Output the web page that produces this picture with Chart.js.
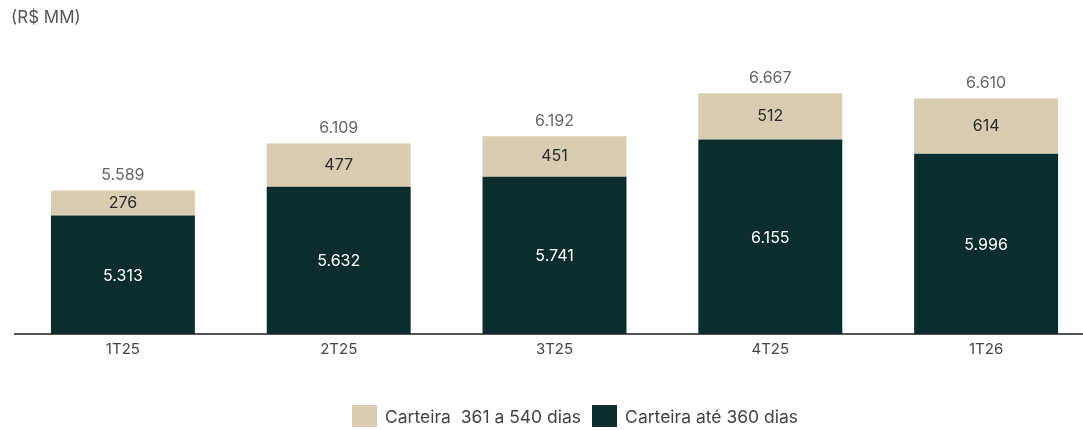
<!DOCTYPE html>
<html>
<head>
<meta charset="utf-8">
<script src="https://cdn.jsdelivr.net/npm/chart.js@4.4.1/dist/chart.umd.min.js"></script>
<style>
html, body { margin: 0; padding: 0; background: #fff; overflow: hidden; }
#wrap { position: relative; width: 1083px; height: 430px; overflow: hidden; }
#box { position: absolute; left: 0; top: 0; width: 1094px; height: 430px; }
#unit { position: absolute; left: 11px; top: 7px; font-family: Inter, sans-serif; font-size: 17px; color: #555; }
#legend { position: absolute; left: 352px; top: 405px; font-family: Inter, sans-serif; font-size: 17.5px; color: #444; display: flex; align-items: center; }
#legend span.sw { display: inline-block; width: 25px; height: 22px; margin-right: 8px; }
#legend span.it { display: flex; align-items: center; margin-right: 11px; }
</style>
</head>
<body>
<div id="wrap">
  <div id="box"><canvas id="chart1"></canvas></div>
  <div id="unit">(R$ MM)</div>
  <div id="legend"></div>
</div>
<script>
var categories = ["1T25", "2T25", "3T25", "4T25", "1T26"];
var ate360 = [5313, 5632, 5741, 6155, 5996];
var de361a540 = [276, 477, 451, 512, 614];
var totals = ["5.589", "6.109", "6.192", "6.667", "6.610"];
var seriesNames = ["Carteira  361 a 540 dias", "Carteira até 360 dias"];
var colors = ["#d8ccb1", "#0c2d2e"];

function fmt(v) {
    return v.toLocaleString("de-DE");
}

// legenda em HTML
var lg = document.getElementById("legend");
seriesNames.forEach(function(n, i) {
    var it = document.createElement("span");
    it.className = "it";
    it.innerHTML = '<span class="sw" style="background:' + colors[i] + '"></span>' + n.replace(/  /g, "&nbsp; ");
    lg.appendChild(it);
});

// rótulos das barras
var labelPlugin = {
    id: "barLabels",
    afterDatasetsDraw: function(chart) {
        var ctx = chart.ctx;
        ctx.save();
        ctx.font = "16px Inter, sans-serif";
        ctx.textAlign = "center";
        ctx.textBaseline = "middle";
        var area = chart.chartArea;
        var m0 = chart.getDatasetMeta(0); // até 360
        var m1 = chart.getDatasetMeta(1); // 361 a 540
        m0.data.forEach(function(bar, i) {
            var bottom = Math.min(bar.base, area.bottom);
            ctx.fillStyle = "#ffffff";
            ctx.fillText(fmt(ate360[i]), bar.x, (bar.y + bottom) / 2 + 1);
        });
        m1.data.forEach(function(bar, i) {
            ctx.fillStyle = "#2a2a2a";
            ctx.fillText(fmt(de361a540[i]), bar.x, (bar.y + bar.base) / 2);
            ctx.fillStyle = "#666666";
            ctx.fillText(totals[i], bar.x, bar.y - 15);
        });
        ctx.restore();
    }
};

var ctx = document.getElementById("chart1").getContext("2d");
var chart = new Chart(ctx, {
    type: "bar",
    data: {
        labels: categories,
        datasets: [{
            label: seriesNames[1],
            data: ate360,
            backgroundColor: colors[1],
            stack: "s"
        }, {
            label: seriesNames[0],
            data: de361a540,
            backgroundColor: colors[0],
            stack: "s"
        }]
    },
    options: {
        responsive: true,
        maintainAspectRatio: false,
        animation: false,
        layout: { padding: { left: 15, right: 0, top: 0, bottom: 66 } },
        plugins: {
            legend: { display: false },
            tooltip: { enabled: false }
        },
        datasets: { bar: { barPercentage: 0.667, categoryPercentage: 1.0 } },
        scales: {
            x: {
                stacked: true,
                grid: { display: false, drawTicks: false },
                border: { display: true, color: "#555", width: 2 },
                ticks: { color: "#444", font: { family: "Inter, sans-serif", size: 15 }, padding: 6 }
            },
            y: {
                stacked: true,
                display: false,
                min: 4000,
                max: 7700
            }
        }
    },
    plugins: [labelPlugin]
});
</script>
</body>
</html>
